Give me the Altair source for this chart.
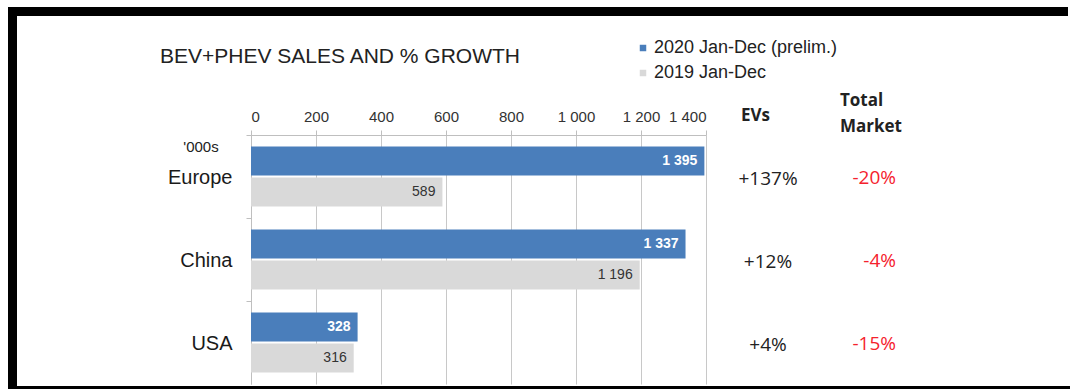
import altair as alt
import pandas as pd

# ---- data ----
regions = ["Europe", "China", "USA"]
series = ["2020 Jan-Dec (prelim.)", "2019 Jan-Dec"]
sales_2020 = [1395, 1337, 328]
sales_2019 = [589, 1196, 316]
ev_growth = ["+137%", "+12%", "+4%"]
market_growth = ["-20%", "-4%", "-15%"]
x_ticks = [0, 200, 400, 600, 800, 1000, 1200, 1400]
title_text = ["BEV+PHEV SALES AND % GROWTH"]
unit_text = ["'000s"]
ev_header = ["EVs"]
market_header = ["Total", "Market"]

BLUE = "#4a7ebb"
GRAY = "#d9d9d9"
FONT = "Liberation Sans"
FONT2 = "Open Sans"

rows = []
for r, a, b in zip(regions, sales_2020, sales_2019):
    rows.append({"region": r, "series": series[0], "value": a})
    rows.append({"region": r, "series": series[1], "value": b})
bars_df = pd.DataFrame(rows)
bars_df["label"] = bars_df["value"].map(lambda v: f"{v:,}".replace(",", " "))

growth_df = pd.DataFrame({"region": regions, "ev": ev_growth, "mk": market_growth})

W, H = 455, 249
OX, OY = 251, 135

y_enc = alt.Y(
    "region:N",
    sort=regions,
    scale=alt.Scale(paddingInner=0, paddingOuter=0),
    axis=alt.Axis(
        title=None, bandPosition=0, labelOffset=1, grid=False,
        domainColor="#bfbfbf", tickColor="#bfbfbf", tickSize=5,
        labelFont=FONT, labelFontSize=20, labelColor="#1a1a1a", labelPadding=14,
    ),
)
yoff = alt.YOffset(
    "series:N", sort=series,
    scale=alt.Scale(paddingInner=0.065, paddingOuter=0.371),
)
x_enc = alt.X(
    "value:Q",
    scale=alt.Scale(domain=[0, 1400], nice=False),
    axis=alt.Axis(
        orient="top", title=None, values=x_ticks,
        labelExpr="replace(format(datum.value, ','), ',', ' ')",
        grid=True, gridColor="#c8c8c8", domainColor="#bfbfbf",
        tickColor="#bfbfbf", tickSize=5, labelFont=FONT, labelFontSize=15,
        labelColor="#333", labelPadding=6,
    ),
)

bars = alt.Chart(bars_df).mark_bar().encode(
    x=x_enc,
    y=y_enc,
    yOffset=yoff,
    color=alt.Color(
        "series:N",
        scale=alt.Scale(domain=series, range=[BLUE, GRAY]),
        legend=alt.Legend(
            orient="none", legendX=383, legendY=-96, title=None,
            symbolType="square", symbolSize=42, symbolStrokeWidth=0,
            labelFont=FONT, labelFontSize=18, labelColor="#222",
            labelOffset=2, rowPadding=7, padding=0, labelLimit=0,
        ),
    ),
)

lab20 = alt.Chart(bars_df).transform_filter(
    alt.datum.series == series[0]
).mark_text(align="right", baseline="middle", dx=-7, color="white",
            fontWeight="bold", font=FONT, fontSize=14).encode(
    x="value:Q", y=alt.Y("region:N", sort=regions), yOffset=yoff, text="label:N"
)
lab19 = alt.Chart(bars_df).transform_filter(
    alt.datum.series == series[1]
).mark_text(align="right", baseline="middle", dx=-7, color="#333",
            font=FONT, fontSize=14).encode(
    x="value:Q", y=alt.Y("region:N", sort=regions), yOffset=yoff, text="label:N"
)

ev_txt = alt.Chart(growth_df).mark_text(
    align="center", baseline="middle", font=FONT2, fontSize=19, color="#222", dy=2
).encode(x=alt.value(768 - OX), y=alt.Y("region:N", sort=regions), text="ev:N")

mk_txt = alt.Chart(growth_df).mark_text(
    align="right", baseline="middle", font=FONT2, fontSize=19, color="#f5222d", dy=1
).encode(x=alt.value(896 - OX), y=alt.Y("region:N", sort=regions), text="mk:N")

title = alt.Chart(pd.DataFrame({"t": title_text})).mark_text(
    align="left", baseline="middle", font=FONT, fontSize=21, color="#222"
).encode(x=alt.value(160 - OX), y=alt.value(57 - OY), text="t:N")

unit = alt.Chart(pd.DataFrame({"t": unit_text})).mark_text(
    align="center", baseline="middle", font=FONT, fontSize=15, color="#222"
).encode(x=alt.value(201 - OX), y=alt.value(147 - OY), text="t:N")

evh = alt.Chart(pd.DataFrame({"t": ev_header})).mark_text(
    align="left", baseline="middle", font=FONT2, fontSize=17,
    fontWeight="bold", color="#222"
).encode(x=alt.value(741 - OX), y=alt.value(116 - OY), text="t:N")

mkh = alt.Chart(pd.DataFrame({"t": market_header, "yy": [101 - OY, 127 - OY]})).mark_text(
    align="left", baseline="middle", font=FONT2, fontSize=17,
    fontWeight="bold", color="#222"
).encode(x=alt.value(840 - OX), y=alt.Y("yy:Q", scale=None), text="t:N")

frame_df = pd.DataFrame({
    "x": [8 - OX, 8 - OX, 8 - OX],
    "x2": [1068 - OX, 17 - OX, 1070 - OX],
    "y": [7 - OY, 7 - OY, 386 - OY],
    "y2": [16 - OY, 389 - OY, 389 - OY],
})
frame = alt.Chart(frame_df).mark_rect(color="black").encode(
    x=alt.X("x:Q", scale=None), x2="x2:Q",
    y=alt.Y("y:Q", scale=None), y2="y2:Q",
)

chart = alt.layer(
    bars, lab20, lab19, ev_txt, mk_txt, title, unit, evh, mkh, frame
).properties(
    width=W, height=H,
    padding={"left": OX, "top": OY, "right": 1070 - OX - W, "bottom": 389 - OY - H},
    autosize=alt.AutoSizeParams(type="none"),
    background="white",
).configure_view(stroke=None)

chart.save("out.html", embed_options={"renderer": "svg", "actions": False})
